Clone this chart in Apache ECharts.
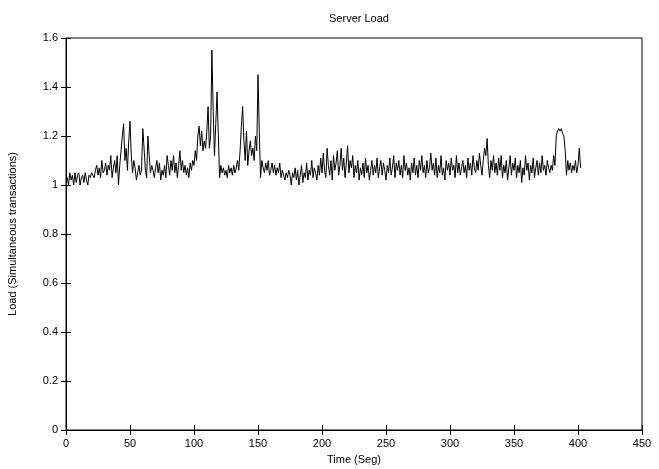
<!DOCTYPE html>
<html>
<head>
<meta charset="utf-8">
<script src="https://cdn.jsdelivr.net/npm/echarts@6/dist/echarts.min.js"></script>
<style>html,body{margin:0;padding:0;background:#fff}#c{width:659px;height:469px}</style>
</head>
<body>
<div id="c"></div>
<script>
// time step: 1 s, starting at 0
var tStart = 0, tStep = 1;
var load = [
1.04,1.03,1.00,1.05,1.02,1.04,1.00,1.05,1.01,1.04,
1.05,1.00,1.03,1.04,1.01,1.05,1.02,1.00,1.04,1.03,
1.05,1.04,1.03,1.06,1.08,1.04,1.07,1.03,1.10,1.05,
1.06,1.09,1.04,1.08,1.06,1.12,1.03,1.07,1.10,1.05,
1.12,1.00,1.08,1.14,1.20,1.25,1.10,1.15,1.06,1.18,
1.26,1.12,1.05,1.10,1.07,1.02,1.05,1.08,1.04,1.06,
1.23,1.15,1.06,1.03,1.20,1.12,1.05,1.08,1.06,1.03,
1.07,1.10,1.05,1.09,1.02,1.06,1.04,1.08,1.03,1.12,
1.08,1.04,1.10,1.06,1.12,1.05,1.09,1.03,1.08,1.14,
1.06,1.10,1.05,1.08,1.04,1.07,1.03,1.09,1.06,1.10,
1.08,1.14,1.10,1.20,1.24,1.16,1.22,1.14,1.18,1.15,
1.22,1.32,1.15,1.20,1.55,1.30,1.12,1.25,1.38,1.38,
1.03,1.08,1.05,1.07,1.04,1.06,1.03,1.08,1.05,1.07,
1.04,1.08,1.05,1.07,1.10,1.06,1.14,1.24,1.32,1.18,
1.10,1.22,1.08,1.14,1.18,1.12,1.15,1.10,1.20,1.14,
1.45,1.22,1.03,1.10,1.07,1.05,1.09,1.06,1.10,1.04,
1.06,1.09,1.05,1.08,1.04,1.07,1.05,1.09,1.03,1.06,
1.04,1.02,1.05,1.03,1.06,1.04,1.00,1.05,1.03,1.07,
1.02,1.06,1.00,1.04,1.08,1.01,1.05,1.03,1.09,1.02,
1.06,1.04,1.10,1.03,1.07,1.05,1.02,1.08,1.04,1.11,
1.05,1.13,1.06,1.03,1.15,1.08,1.04,1.10,1.02,1.12,
1.06,1.09,1.14,1.04,1.08,1.15,1.06,1.11,1.03,1.09,
1.16,1.05,1.10,1.07,1.12,1.03,1.08,1.05,1.10,1.02,
1.07,1.04,1.09,1.03,1.11,1.05,1.08,1.02,1.06,1.10,
1.04,1.08,1.05,1.11,1.03,1.07,1.10,1.04,1.09,1.06,
1.02,1.08,1.05,1.11,1.04,1.07,1.12,1.03,1.09,1.06,
1.10,1.04,1.08,1.03,1.12,1.06,1.09,1.04,1.07,1.02,
1.09,1.05,1.11,1.04,1.08,1.03,1.10,1.06,1.12,1.05,
1.08,1.03,1.10,1.05,1.07,1.13,1.06,1.09,1.04,1.11,
1.03,1.08,1.05,1.12,1.04,1.07,1.02,1.10,1.06,1.09,
1.04,1.11,1.06,1.08,1.03,1.12,1.05,1.09,1.04,1.07,
1.10,1.05,1.08,1.03,1.11,1.06,1.09,1.04,1.12,1.07,
1.05,1.10,1.06,1.13,1.08,1.04,1.10,1.15,1.12,1.19,
1.08,1.03,1.10,1.06,1.12,1.05,1.09,1.04,1.11,1.06,
1.12,1.03,1.08,1.05,1.10,1.02,1.07,1.12,1.04,1.09,
1.06,1.11,1.03,1.08,1.05,1.10,1.01,1.07,1.04,1.12,
1.06,1.09,1.02,1.08,1.05,1.11,1.03,1.07,1.10,1.04,
1.09,1.05,1.12,1.06,1.08,1.04,1.10,1.07,1.05,1.08,
1.06,1.12,1.08,1.20,1.22,1.23,1.22,1.23,1.21,1.20,
1.14,1.04,1.10,1.06,1.09,1.05,1.08,1.06,1.10,1.05,
1.08,1.15,1.07
];
var xTicks = [0,50,100,150,200,250,300,350,400,450];
var yTicks = [0,0.2,0.4,0.6,0.8,1,1.2,1.4,1.6];

var pts = load.map(function(v,i){return [tStart + i*tStep, v];});
var font = 'Liberation Sans, Arial, sans-serif';
var chart = echarts.init(document.getElementById('c'), null, {renderer:'canvas'});
function axX(show, pos){
  return {type:'value', min:xTicks[0], max:xTicks[xTicks.length-1], interval:50, position:pos,
    axisLine:{show:show==='main', lineStyle:{color:'#000',width:1}},
    axisTick:{show:true, inside:true, length:5, lineStyle:{color:'#000'}},
    axisLabel:{show:show==='main', color:'#000', fontFamily:font, fontSize:11, margin:8},
    splitLine:{show:false},
    name: show==='main' ? 'Time (Seg)' : '', nameLocation:'middle', nameGap:24,
    nameTextStyle:{color:'#000', fontFamily:font, fontSize:11}};
}
function axY(show, pos){
  return {type:'value', min:yTicks[0], max:yTicks[yTicks.length-1], interval:0.2, position:pos,
    axisLine:{show:show==='main', lineStyle:{color:'#000',width:1}},
    axisTick:{show:true, inside:true, length:5, lineStyle:{color:'#000'}},
    axisLabel:{show:show==='main', color:'#000', fontFamily:font, fontSize:11, margin:8},
    splitLine:{show:false},
    name: show==='main' ? 'Load (Simultaneous transactions)' : '', nameLocation:'middle', nameGap:48,
    nameTextStyle:{color:'#000', fontFamily:font, fontSize:11}};
}
chart.setOption({
  animation:false,
  backgroundColor:'#fff',
  title:{text:'Server Load', left:354, top:8, textAlign:'center',
    textStyle:{color:'#000', fontFamily:font, fontSize:11, fontWeight:'normal'}},
  grid:{left:66, right:17, top:38, bottom:39, show:true, borderColor:'#000', borderWidth:1,
    containLabel:false, outerBoundsMode:'none'},
  xAxis:[axX('main','bottom'), axX('mirror','top')],
  yAxis:[axY('main','left'), axY('mirror','right')],
  series:[{type:'line', data:pts, xAxisIndex:0, yAxisIndex:0, showSymbol:false,
    lineStyle:{color:'#000', width:1}}]
});
</script>
</body>
</html>
